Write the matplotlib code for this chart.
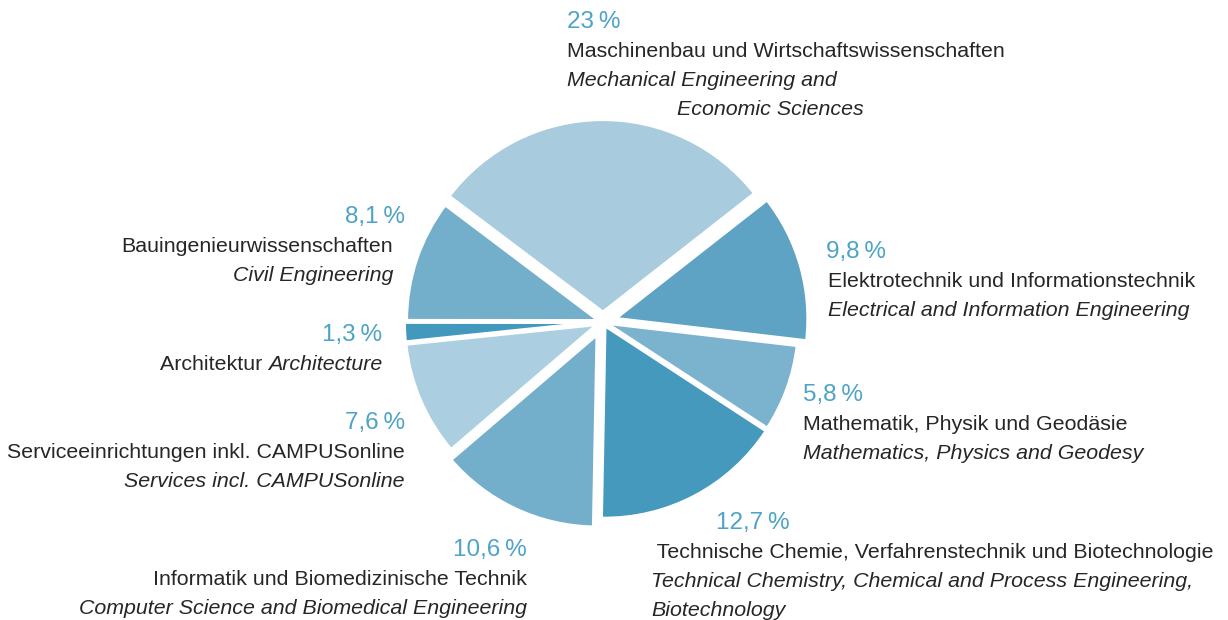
import matplotlib.pyplot as plt

#%% data
labels_de = ['Maschinenbau und Wirtschaftswissenschaften',
             'Elektrotechnik und Informationstechnik',
             'Mathematik, Physik und Geodäsie',
             ' Technische Chemie, Verfahrenstechnik und Biotechnologie',
             'Informatik und Biomedizinische Technik',
             'Serviceeinrichtungen inkl. CAMPUSonline',
             'Architektur',
             'Bauingenieurwissenschaften']
labels_en = [['Mechanical Engineering and', 'Economic Sciences'],
             ['Electrical and Information Engineering'],
             ['Mathematics, Physics and Geodesy'],
             ['Technical Chemistry, Chemical and Process Engineering,', 'Biotechnology'],
             ['Computer Science and Biomedical Engineering'],
             ['Services incl. CAMPUSonline'],
             ['Architecture'],
             ['Civil Engineering']]
values = [23, 9.8, 5.8, 12.7, 10.6, 7.6, 1.3, 8.1]
pct_labels = ['23\u2009%', '9,8\u2009%', '5,8\u2009%', '12,7\u2009%',
              '10,6\u2009%', '7,6\u2009%', '1,3\u2009%', '8,1\u2009%']
colors = ['#a8cbde', '#5ea3c3', '#7bb3cf', '#4499bd',
          '#73afcb', '#abcee0', '#4298bd', '#73afcb']

#%% layout (pixel coords, y from top)
W, H = 1228, 620
R = 193
explode = [e * R for e in [0.05, 0.065, 0.015, 0.02, 0.07, 0.03, 0.03, 0.02]]
# x, y of percent line, alignment, x of text block
label_pos = [(567, 22, 'left', 567),
             (826, 252, 'left', 828),
             (803, 395, 'left', 803),
             (716, 523, 'left', 651),
             (527, 550, 'right', 527),
             (405, 423, 'right', 405),
             (382, 335, 'right', 382),
             (405, 217, 'right', 393)]
# second english line of Maschinenbau is right aligned at this x
masch_line2_right = 864

pct_color = '#4ea3c7'
txt_color = '#262626'
plt.rcParams['font.family'] = ['Liberation Sans', 'DejaVu Sans']

fig = plt.figure(figsize=(W / 100, H / 100), dpi=100)
ax = fig.add_axes([0, 0, 1, 1])

ax.pie(values, colors=colors, explode=explode, startangle=143,
       counterclock=False, radius=R, center=(603, H - 322),
       wedgeprops=dict(edgecolor='white', linewidth=2.5))
ax.set_xlim(0, W)
ax.set_ylim(0, H)
ax.set_aspect('equal')
ax.axis('off')

fs_pct = 17.5
fs_txt = 15.4
step = 29.3

for i in range(len(values)):
    px, py, ha, tx = label_pos[i]
    ax.text(px, H - py, pct_labels[i], ha=ha, va='center',
            fontsize=fs_pct, color=pct_color)
    if i == 6:
        continue
    ax.text(tx, H - (py + step), labels_de[i], ha=ha, va='center',
            fontsize=fs_txt, color=txt_color)
    for j, line in enumerate(labels_en[i]):
        x, a = tx, ha
        if i == 0 and j == 1:
            x, a = masch_line2_right, 'right'
        ax.text(x, H - (py + (2 + j) * step), line, ha=a, va='center',
                fontsize=fs_txt, color=txt_color, style='italic')

# Architektur line: regular + italic on one line
px, py, ha, tx = label_pos[6]
it = ax.text(tx, H - (py + step), labels_en[6][0], ha='right', va='center',
             fontsize=fs_txt, color=txt_color, style='italic')
fig.canvas.draw()
bb = it.get_window_extent().transformed(ax.transData.inverted())
ax.text(bb.x0, H - (py + step), labels_de[6] + ' ', ha='right', va='center',
        fontsize=fs_txt, color=txt_color)

fig.savefig('out.png', dpi=100)
